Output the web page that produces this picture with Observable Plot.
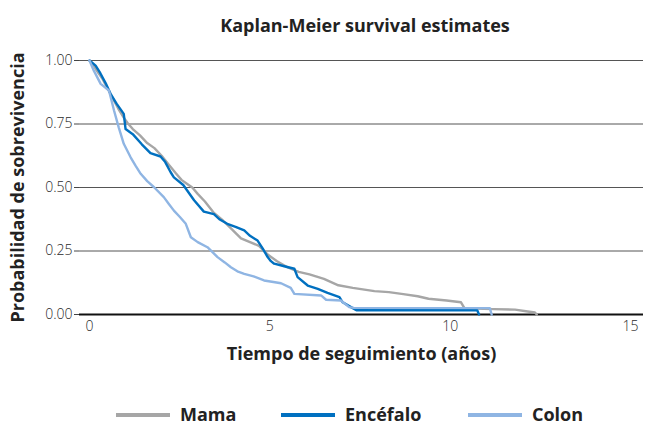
<!DOCTYPE html>
<html>
<head>
<meta charset="utf-8">
<script src="https://cdn.jsdelivr.net/npm/d3@7"></script>
<script src="https://cdn.jsdelivr.net/npm/@observablehq/plot@0.6"></script>
<style>
  html, body { margin: 0; padding: 0; background: #fff; }
  body { width: 647px; height: 425px; position: relative; font-family: "Open Sans", sans-serif; }
  #title { position: absolute; left: 0; top: 12px; width: 730px; text-align: center; font-weight: 700; font-size: 18px; line-height: 26px; color: #222; }
  #chart { position: absolute; left: 0; top: 40px; }
  #legend { position: absolute; left: 0; top: 402px; width: 647px; height: 23px; }
  .sw { position: absolute; top: 11px; width: 54px; height: 4px; }
  .lb { position: absolute; top: 0; font-weight: 700; font-size: 18px; line-height: 24px; color: #222; }
</style>
</head>
<body>
<div id="title">Kaplan-Meier survival estimates</div>
<div id="chart"></div>
<div id="legend"></div>
<script>
// ---- data ----
const seriesNames = ["Mama", "Encéfalo", "Colon"];
const seriesColors = ["#a6a6a6", "#0070c0", "#8fb5e3"];

const mamaT = [0, 0.1, 0.2, 0.35, 0.5, 0.65, 0.8, 0.95, 1.05, 1.2, 1.4, 1.6, 1.8, 2.0, 2.2, 2.4, 2.55, 2.7, 2.85, 3.0, 3.2, 3.45, 3.7, 3.95, 4.2, 4.45, 4.7, 4.95, 5.2, 5.5, 5.8, 6.1, 6.5, 6.9, 7.3, 7.9, 8.3, 8.7, 9.1, 9.4, 9.9, 10.3, 10.4, 11.2, 11.8, 12.15, 12.35, 12.4];
const mamaS = [1.0, 0.985, 0.96, 0.93, 0.89, 0.85, 0.81, 0.775, 0.755, 0.73, 0.705, 0.675, 0.655, 0.625, 0.59, 0.555, 0.53, 0.515, 0.5, 0.475, 0.445, 0.40, 0.37, 0.335, 0.30, 0.285, 0.27, 0.235, 0.21, 0.185, 0.168, 0.158, 0.14, 0.115, 0.105, 0.092, 0.088, 0.08, 0.072, 0.062, 0.055, 0.048, 0.024, 0.021, 0.019, 0.012, 0.008, 0];

const encT = [0, 0.17, 0.3, 0.45, 0.58, 0.75, 0.95, 1.0, 1.2, 1.45, 1.69, 1.97, 2.1, 2.25, 2.34, 2.6, 2.9, 3.17, 3.45, 3.6, 3.82, 4.05, 4.29, 4.45, 4.66, 4.8, 4.94, 5.03, 5.12, 5.4, 5.68, 5.77, 6.05, 6.33, 6.6, 6.93, 7.02, 7.25, 7.4, 10.75, 10.8];
const encS = [1.0, 0.98, 0.95, 0.91, 0.87, 0.83, 0.79, 0.73, 0.71, 0.67, 0.635, 0.622, 0.60, 0.56, 0.54, 0.51, 0.45, 0.405, 0.395, 0.375, 0.357, 0.345, 0.331, 0.31, 0.291, 0.26, 0.226, 0.21, 0.20, 0.19, 0.18, 0.147, 0.114, 0.101, 0.085, 0.068, 0.048, 0.029, 0.017, 0.017, 0];

const colT = [0, 0.12, 0.31, 0.54, 0.68, 0.81, 0.95, 1.14, 1.28, 1.42, 1.6, 1.79, 2.06, 2.2, 2.34, 2.5, 2.67, 2.81, 3.0, 3.27, 3.55, 3.75, 3.92, 4.1, 4.29, 4.55, 4.84, 5.1, 5.31, 5.58, 5.68, 6.42, 6.56, 6.97, 7.2, 7.33, 11.1, 11.15];
const colS = [1.0, 0.96, 0.908, 0.882, 0.803, 0.737, 0.672, 0.619, 0.585, 0.554, 0.525, 0.501, 0.462, 0.435, 0.409, 0.385, 0.357, 0.304, 0.285, 0.265, 0.226, 0.205, 0.186, 0.17, 0.16, 0.15, 0.134, 0.128, 0.123, 0.105, 0.081, 0.075, 0.058, 0.055, 0.029, 0.026, 0.025, 0];

const xTicks = [0, 5, 10, 15];
const yTicks = [0, 0.25, 0.5, 0.75, 1];
const gridVals = [0.25, 0.5, 0.75, 1];
const xLabel = "Tiempo de seguimiento (años)";
const yLabel = "Probabilidad de sobrevivencia";

// ---- build rows ----
const rows = [];
[[mamaT, mamaS], [encT, encS], [colT, colS]].forEach(([T, S], i) => {
  T.forEach((t, j) => rows.push({series: seriesNames[i], t, s: S[j]}));
});

const chart = Plot.plot({
  width: 647,
  height: 330,
  marginTop: 20,
  marginBottom: 56,
  marginLeft: 79,
  marginRight: 4,
  insetLeft: 10,
  insetRight: 13,
  style: {fontFamily: "'Open Sans', sans-serif", background: "#fff", overflow: "visible"},
  x: {domain: [0, 15]},
  y: {domain: [0, 1]},
  color: {domain: seriesNames, range: seriesColors},
  marks: [
    Plot.ruleY(gridVals, {stroke: "#555", strokeWidth: 1}),
    Plot.ruleY([0], {stroke: "#111", strokeWidth: 2}),
    Plot.axisY({ticks: yTicks, tickSize: 5, tickPadding: 2, tickFormat: d3.format(".2f"), label: null, fontSize: 14, fill: "#2a2a2a", fontWeight: 300, stroke: "#444"}),
    Plot.axisX({ticks: xTicks, tickSize: 0, tickPadding: 7, label: null, fontSize: 14, fill: "#2a2a2a", fontWeight: 300}),
    Plot.line(rows, {x: "t", y: "s", z: "series", stroke: "series", strokeWidth: 2.4, curve: "linear", strokeLinejoin: "round"}),
    Plot.text([yLabel], {frameAnchor: "left", textAnchor: "middle", dx: -61, rotate: -90, fontSize: 18, fontWeight: 700, fill: "#222"}),
    Plot.text([xLabel], {frameAnchor: "bottom", dy: 45, fontSize: 18, fontWeight: 700, fill: "#222"})
  ]
});
document.getElementById("chart").appendChild(chart);

// ---- legend ----
const legend = document.getElementById("legend");
const swX = [116, 281, 468];
const lbX = [180, 345, 532];
seriesNames.forEach((name, i) => {
  const sw = document.createElement("div");
  sw.className = "sw";
  sw.style.left = swX[i] + "px";
  sw.style.background = seriesColors[i];
  legend.appendChild(sw);
  const lb = document.createElement("div");
  lb.className = "lb";
  lb.style.left = lbX[i] + "px";
  lb.textContent = name;
  legend.appendChild(lb);
});
</script>
</body>
</html>
